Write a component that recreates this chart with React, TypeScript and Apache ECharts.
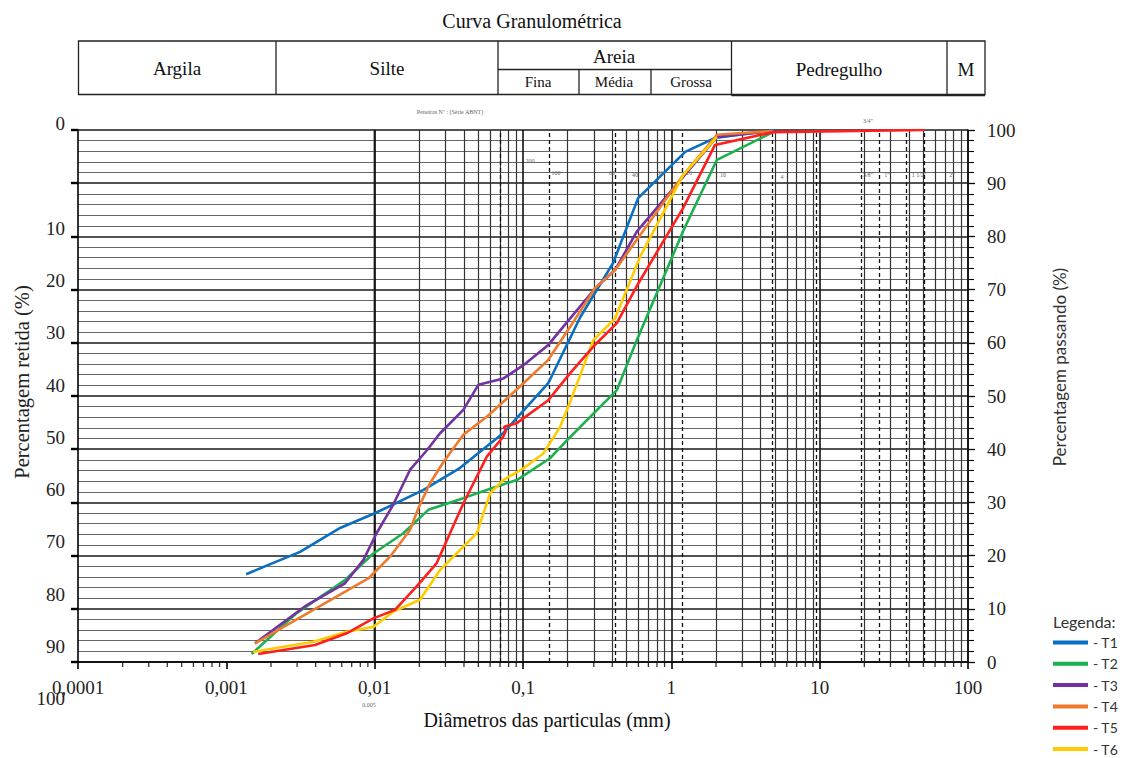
import React, { useEffect, useRef } from "react";
import * as echarts from "echarts";

// ---------- data ----------
const seriesNames = ["T1", "T2", "T3", "T4", "T5", "T6"];
const seriesColors = ["#0A6FC2", "#1DB04F", "#7232A0", "#EE7A2E", "#FF1F1F", "#FFCC00"];

const t1Diam = [0.00136, 0.00314, 0.00585, 0.0101, 0.0212, 0.0377, 0.0734, 0.148, 0.243, 0.405, 0.597, 1.24, 1.97, 5.0];
const t1Pass = [16.5, 20.7, 25.2, 28.0, 32.3, 36.5, 43.0, 52.4, 64.8, 75.0, 87.2, 95.9, 98.5, 100];

const t2Diam = [0.00148, 0.00298, 0.00631, 0.0098, 0.0156, 0.023, 0.0396, 0.0666, 0.0908, 0.152, 0.208, 0.429, 0.585, 1.21, 2.03, 4.86];
const t2Pass = [1.5, 9.2, 15.4, 20.4, 24.2, 28.6, 30.8, 33.0, 34.2, 38.3, 42.3, 51.1, 60.5, 81.2, 94.4, 99.6];

const t3Diam = [0.00156, 0.00349, 0.00631, 0.0084, 0.0103, 0.0133, 0.0173, 0.0225, 0.0276, 0.0396, 0.05, 0.0738, 0.1007, 0.148, 0.208, 0.306, 0.418, 0.585, 2.03, 4.86];
const t3Pass = [3.5, 10.7, 14.8, 19.2, 24.2, 29.5, 36.1, 39.8, 43.0, 47.4, 52.1, 53.3, 55.8, 59.6, 64.6, 70.2, 73.7, 80.9, 98.7, 99.8];

const t4Diam = [0.00156, 0.00386, 0.00907, 0.0127, 0.0173, 0.0197, 0.0236, 0.0291, 0.0396, 0.057, 0.0757, 0.1007, 0.148, 0.208, 0.306, 0.418, 1.2, 2.03, 4.86];
const t4Pass = [3.5, 9.8, 15.7, 19.8, 24.8, 28.9, 33.6, 37.6, 42.7, 46.1, 49.2, 52.4, 56.8, 63.0, 70.3, 73.7, 91.5, 99.1, 99.8];

const t5Diam = [0.00164, 0.00396, 0.00648, 0.0098, 0.0137, 0.0192, 0.0262, 0.0322, 0.0396, 0.057, 0.0734, 0.0765, 0.0745, 0.0908, 0.148, 0.208, 0.298, 0.429, 0.6, 1.2, 1.97, 4.86, 50.8];
const t5Pass = [1.5, 3.2, 5.4, 8.2, 9.8, 14.2, 18.6, 24.2, 29.8, 38.6, 42.3, 43.4, 44.2, 44.9, 49.2, 54.3, 59.3, 63.7, 71.2, 85.3, 97.2, 99.6, 100];

const t6Diam = [0.00152, 0.00386, 0.00648, 0.0098, 0.0134, 0.0202, 0.0276, 0.0396, 0.0488, 0.06, 0.0734, 0.1007, 0.137, 0.178, 0.208, 0.298, 0.418, 0.616, 1.2, 2.03];
const t6Pass = [1.9, 3.8, 5.7, 6.6, 9.5, 11.7, 17.3, 21.7, 24.2, 31.7, 34.2, 36.4, 39.2, 44.2, 48.9, 60.5, 64.6, 76.2, 91.5, 98.7];

const diamSets = [t1Diam, t2Diam, t3Diam, t4Diam, t5Diam, t6Diam];
const passSets = [t1Pass, t2Pass, t3Pass, t4Pass, t5Pass, t6Pass];

// grid (log paper) lines
const decadeLines = [0.0001, 0.001, 0.01, 0.1, 1, 10, 100];
const minorMultipliers = [2, 3, 4, 5, 6, 7, 8, 9];
const sieveOpenings = [0.075, 0.15, 0.42, 1.19, 4.8, 9.5, 19, 25.4, 38.1, 50.8];

// left (retained) labels
const retainedLabels = ["0", "", "10", "20", "30", "40", "50", "60", "70", "80", "90", "100"];

// header table
const headerMain = [
  { text: "Argila", x: 177, y: 68 },
  { text: "Silte", x: 387, y: 68 },
  { text: "Areia", x: 614, y: 56 },
  { text: "Pedregulho", x: 839, y: 69 },
  { text: "M", x: 966, y: 69 },
];
const headerSub = [
  { text: "Fina", x: 538, y: 82 },
  { text: "Média", x: 614, y: 82 },
  { text: "Grossa", x: 691, y: 82 },
];
const sieveTexts = [
  { text: "Peneiras Nº : (Série ABNT)", x: 450, y: 112 },
  { text: "3/4\"", x: 868, y: 121 },
  { text: "200", x: 530, y: 161 },
  { text: "100", x: 556, y: 173 },
  { text: "60", x: 612, y: 173 },
  { text: "40", x: 635, y: 175 },
  { text: "30", x: 660, y: 173 },
  { text: "16", x: 689, y: 173 },
  { text: "10", x: 723, y: 175 },
  { text: "4", x: 782, y: 177 },
  { text: "3/8\"", x: 868, y: 175 },
  { text: "1\"", x: 887, y: 175 },
  { text: "1 1/2\"", x: 919, y: 175 },
  { text: "2\"", x: 952, y: 175 },
  { text: "0,005", x: 369, y: 705 },
];

const SERIF = "'Liberation Serif', 'DejaVu Serif', serif";
const SANS = "Lato, 'Noto Sans', sans-serif";

export default function App() {
  const ref = useRef<HTMLDivElement>(null);

  useEffect(() => {
    if (!ref.current) return;
    const chart = echarts.init(ref.current, undefined, { renderer: "svg" });

    const minorLines: number[] = [];
    decadeLines.slice(0, -1).forEach((d) => minorMultipliers.forEach((m) => minorLines.push(+(d * m).toPrecision(3))));

    const curveSeries = seriesNames.map((name, i) => ({
      name,
      type: "line",
      xAxisIndex: 0,
      yAxisIndex: 0,
      data: diamSets[i].map((d, k) => [d, passSets[i][k]]),
      symbol: "none",
      showSymbol: false,
      lineStyle: { width: 2.6, color: seriesColors[i] },
      itemStyle: { color: seriesColors[i] },
      z: name === "T5" ? 12 : 10,
    }));

    const markBase = { silent: true, symbol: ["none", "none"], label: { show: false }, z: 1 };
    const gridLineSeries = [
      {
        name: "minorGrid",
        type: "line",
        data: [],
        silent: true,
        z: 1,
        markLine: { ...markBase, lineStyle: { color: "#333", width: 1.2, type: "solid" }, data: minorLines.map((v) => ({ xAxis: v })) },
      },
      {
        name: "decadeGrid",
        type: "line",
        data: [],
        silent: true,
        z: 1,
        markLine: { ...markBase, lineStyle: { color: "#111", width: 1.6, type: "solid" }, data: decadeLines.map((v) => ({ xAxis: v })) },
      },
      {
        name: "sieveGrid",
        type: "line",
        data: [],
        silent: true,
        z: 1,
        markLine: { ...markBase, lineStyle: { color: "#111", width: 1.3, type: [4, 3] }, data: sieveOpenings.map((v) => ({ xAxis: v })) },
      },
      {
        name: "minorTicks",
        type: "scatter",
        silent: true,
        clip: false,
        symbol: "rect",
        symbolSize: [1.3, 5],
        symbolOffset: [0, 2.5],
        itemStyle: { color: "#000" },
        z: 3,
        data: minorLines.map((v) => [v, 0]),
      },
    ];

    const stroke = { stroke: "#222", lineWidth: 1.3 };
    const graphic: any[] = [
      {
        type: "text",
        x: 532,
        y: 21,
        style: { text: "Curva Granulométrica", font: `20px ${SERIF}`, fill: "#111", align: "center", verticalAlign: "middle" },
      },
      // header table
      { type: "rect", shape: { x: 78.5, y: 41, width: 906.5, height: 53.5 }, style: { fill: "none", ...stroke } },
      { type: "line", shape: { x1: 276, y1: 41, x2: 276, y2: 94.5 }, style: stroke },
      { type: "line", shape: { x1: 498, y1: 41, x2: 498, y2: 94.5 }, style: stroke },
      { type: "line", shape: { x1: 731.5, y1: 41, x2: 731.5, y2: 95.5 }, style: stroke },
      { type: "line", shape: { x1: 947, y1: 41, x2: 947, y2: 95.5 }, style: stroke },
      { type: "line", shape: { x1: 731.5, y1: 95.5, x2: 985, y2: 95.5 }, style: stroke },
      { type: "line", shape: { x1: 498, y1: 69.5, x2: 731.5, y2: 69.5 }, style: stroke },
      { type: "line", shape: { x1: 579, y1: 69.5, x2: 579, y2: 94.5 }, style: stroke },
      { type: "line", shape: { x1: 651, y1: 69.5, x2: 651, y2: 94.5 }, style: stroke },
      ...headerMain.map((h) => ({
        type: "text",
        x: h.x,
        y: h.y,
        style: { text: h.text, font: `19px ${SERIF}`, fill: "#111", align: "center", verticalAlign: "middle" },
      })),
      ...headerSub.map((h) => ({
        type: "text",
        x: h.x,
        y: h.y,
        style: { text: h.text, font: `15px ${SERIF}`, fill: "#111", align: "center", verticalAlign: "middle" },
      })),
      ...sieveTexts.map((s) => ({
        type: "text",
        x: s.x,
        y: s.y,
        z: 20,
        style: { text: s.text, font: `6px ${SERIF}`, fill: "#666", align: "center", verticalAlign: "middle" },
      })),
      // axis titles
      {
        type: "text",
        x: 22,
        y: 382,
        rotation: Math.PI / 2,
        style: { text: "Percentagem retida (%)", font: `20.5px ${SERIF}`, fill: "#222", align: "center", verticalAlign: "middle" },
      },
      {
        type: "text",
        x: 1059,
        y: 367,
        rotation: Math.PI / 2,
        style: { text: "Percentagem passando (%)", font: `17px ${SANS}`, fill: "#333", align: "center", verticalAlign: "middle" },
      },
      {
        type: "text",
        x: 547,
        y: 720,
        style: { text: "Diâmetros das particulas (mm)", font: `20px ${SERIF}`, fill: "#111", align: "center", verticalAlign: "middle" },
      },
      {
        type: "text",
        x: 1053,
        y: 621,
        style: { text: "Legenda:", font: `16px ${SANS}`, fill: "#333", align: "left", verticalAlign: "middle" },
      },
    ];

    const tickFont = { fontSize: 19, fontFamily: SERIF, color: "#222" };

    const option: any = {
      animation: false,
      backgroundColor: "#fff",
      color: seriesColors,
      graphic,
      legend: {
        data: seriesNames,
        orient: "vertical",
        left: 1053,
        top: 635,
        height: 160,
        padding: 0,
        icon: "rect",
        itemWidth: 35,
        itemHeight: 4,
        itemGap: 6.3,
        formatter: (n: string) => "- " + n,
        textStyle: { fontFamily: SANS, fontSize: 14, color: "#333", lineHeight: 15 },
        selectedMode: false,
      },
      grid: [
        { left: 78, right: 160, top: 130, bottom: 96, containLabel: false },
        { left: 78, top: 123.5, height: 575.3, width: 10, containLabel: false },
      ],
      xAxis: [
        {
          type: "log",
          logBase: 10,
          gridIndex: 0,
          min: 0.0001,
          max: 100,
          axisLine: { show: true, lineStyle: { color: "#000", width: 1.6 } },
          axisTick: { show: true, length: 7, lineStyle: { color: "#000", width: 1.6 } },
          splitLine: { show: false },
          axisLabel: {
            margin: 16,
            ...tickFont,
            formatter: (v: number) => String(v).replace(".", ","),
          },
        },
        { type: "value", gridIndex: 1, show: false, min: 0, max: 1 },
      ],
      yAxis: [
        {
          type: "value",
          gridIndex: 0,
          position: "right",
          min: 0,
          max: 100,
          interval: 10,
          axisLine: { show: true, lineStyle: { color: "#000", width: 1.5 } },
          axisTick: { show: true, length: 7, lineStyle: { color: "#000", width: 1.3 } },
          minorTick: { show: true, splitNumber: 5, length: 6, lineStyle: { color: "#000", width: 1.1 } },
          splitLine: { show: true, lineStyle: { color: "#1a1a1a", width: 1.5 } },
          minorSplitLine: { show: true, lineStyle: { color: "#666", width: 1.1 } },
          axisLabel: { margin: 19, ...tickFont },
        },
        {
          type: "value",
          gridIndex: 0,
          position: "left",
          min: 0,
          max: 100,
          interval: 10,
          axisLine: { show: true, lineStyle: { color: "#000", width: 1.6 } },
          axisTick: { show: true, length: 7, lineStyle: { color: "#000", width: 2.4 } },
          axisLabel: { show: false },
          splitLine: { show: false },
        },
        {
          type: "value",
          gridIndex: 1,
          position: "left",
          inverse: true,
          min: -10,
          max: 100,
          interval: 10,
          axisLine: { show: false },
          axisTick: { show: false },
          splitLine: { show: false },
          axisLabel: {
            margin: 13,
            ...tickFont,
            formatter: (v: number) => retainedLabels[Math.round(v / 10) + 1] ?? "",
          },
        },
      ],
      series: [...gridLineSeries, ...curveSeries],
    };

    chart.setOption(option);
    return () => chart.dispose();
  }, []);

  return <div ref={ref} style={{ position: "absolute", left: 0, top: 0, width: 1128, height: 758 }} />;
}
